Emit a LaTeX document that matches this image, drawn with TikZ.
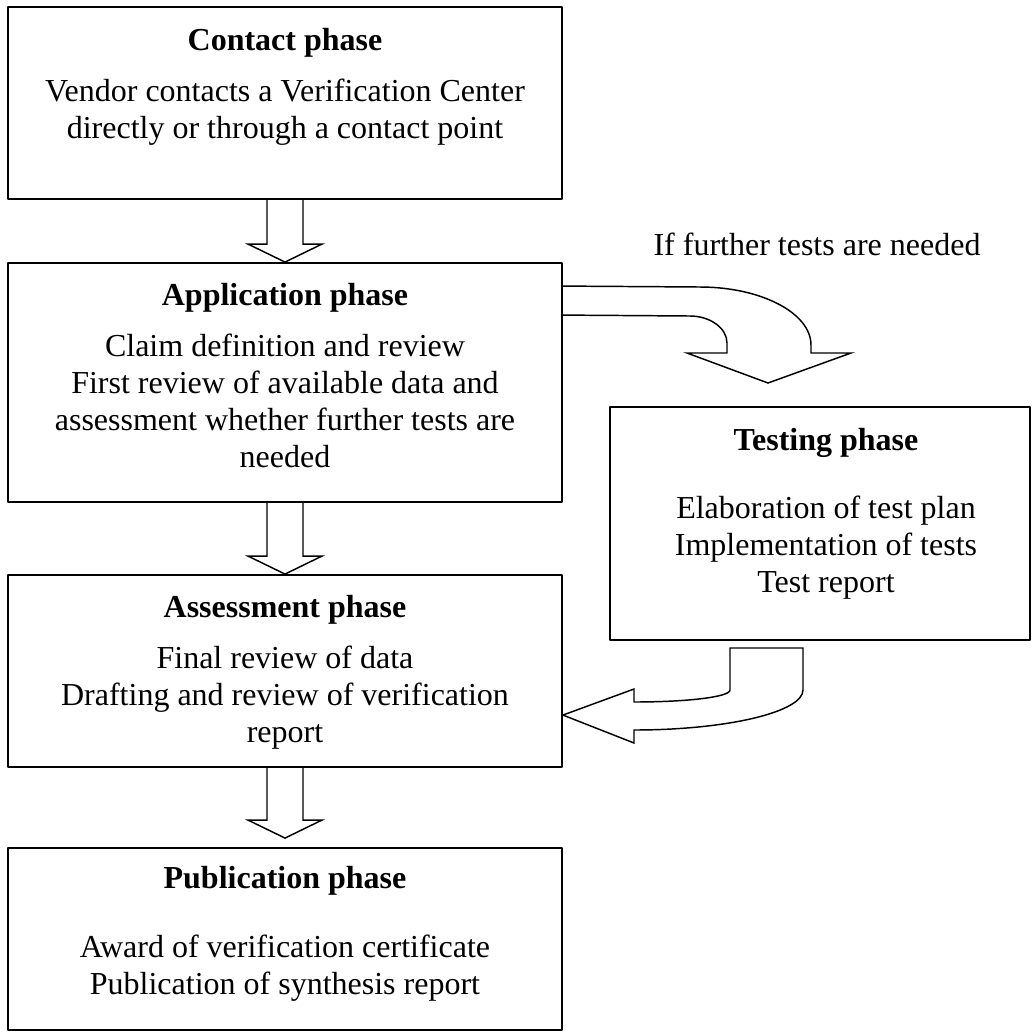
\documentclass[tikz,border=0pt]{standalone}
\usepackage{fontspec}
\setmainfont{Liberation Serif}
\usetikzlibrary{calc,fit}

\tikzset{
  phasebox/.style={draw,line width=0.7pt,inner sep=0pt},
  phasehead/.style={font=\fontsize{12}{13.875}\selectfont\bfseries,anchor=base,inner sep=0pt},
  phasetext/.style={font=\fontsize{12}{13.875}\selectfont,align=center,anchor=base,inner sep=0pt},
  blockarrow/.style={line width=0.55pt,line join=miter}
}

\newcommand{\downblock}[3]{%
  \draw[blockarrow] ($(#1.south)+(-18,0)$) -- ($(#2.north)+(-18,-18-#3)$)
    -- ($(#2.north)+(-37,-18-#3)$) -- ($(#2.north)+(0,-#3)$)
    -- ($(#2.north)+(37,-18-#3)$) -- ($(#2.north)+(18,-18-#3)$)
    -- ($(#1.south)+(18,0)$);}

\begin{document}
\begin{tikzpicture}[line cap=round,line join=round,x=0.375pt,y=-0.375pt]
\useasboundingbox (0,0) rectangle (1033,1033);
\node[phasebox,fit={(8,7) (562,199)}] (contact) {};
\node[phasebox,fit={(8,263) (562,502)}] (application) {};
\node[phasebox,fit={(610,407) (1030,640)}] (testing) {};
\node[phasebox,fit={(8,575) (562,767)}] (assessment) {};
\node[phasebox,fit={(8,848) (562,1030)}] (publication) {};
% the base of a text block is its last line
\node[phasehead] (contacthead) at (285,50) {Contact phase};
\node[phasetext] (contacttext) at (285,138) {Vendor contacts a Verification Center\\directly or through a contact point};
\node[phasehead] (applicationhead) at (285,305) {Application phase};
\node[phasetext] (applicationtext) at (285,467) {Claim definition and review\\First review of available data and\\assessment whether further tests are\\needed};
\node[phasehead] (testinghead) at (826,450) {Testing phase};
\node[phasetext] (testingtext) at (826,592) {Elaboration of test plan\\Implementation of tests\\Test report};
\node[phasehead] (assessmenthead) at (285,617) {Assessment phase};
\node[phasetext] (assessmenttext) at (285,742) {Final review of data\\Drafting and review of verification\\report};
\node[phasehead] (publicationhead) at (285,888) {Publication phase};
\node[phasetext] (publicationtext) at (285,994) {Award of verification certificate\\Publication of synthesis report};
\node[phasetext] (furthertests) at (817,255) {If further tests are needed};
\downblock{contact}{application}{0}
\downblock{application}{assessment}{0}
\downblock{assessment}{publication}{9}
\coordinate (testtip) at (768,383);
\draw[blockarrow] ($(application.north east)+(0,53)$) -- (690,316)
  .. controls (710,316) and (727,328) .. (727,343) -- (727,353) -- (687,353)
  -- (testtip) -- (851,353) -- (811,353) -- (811,345)
  .. controls (811,313) and (761,287) .. (700,287)
  -- ($(application.north east)+(0,24)$);
\coordinate (backstart) at (730,648);
\draw[blockarrow] (backstart) -- (730,690)
  .. controls (730,697) and (687,702) .. (634,702) -- (634,689)
  -- ($(assessment.north east)+(0,141)$) -- (634,743) -- (634,730)
  .. controls (727,730) and (803,712) .. (803,690) -- (803,648) -- cycle;
\end{tikzpicture}
\end{document}
